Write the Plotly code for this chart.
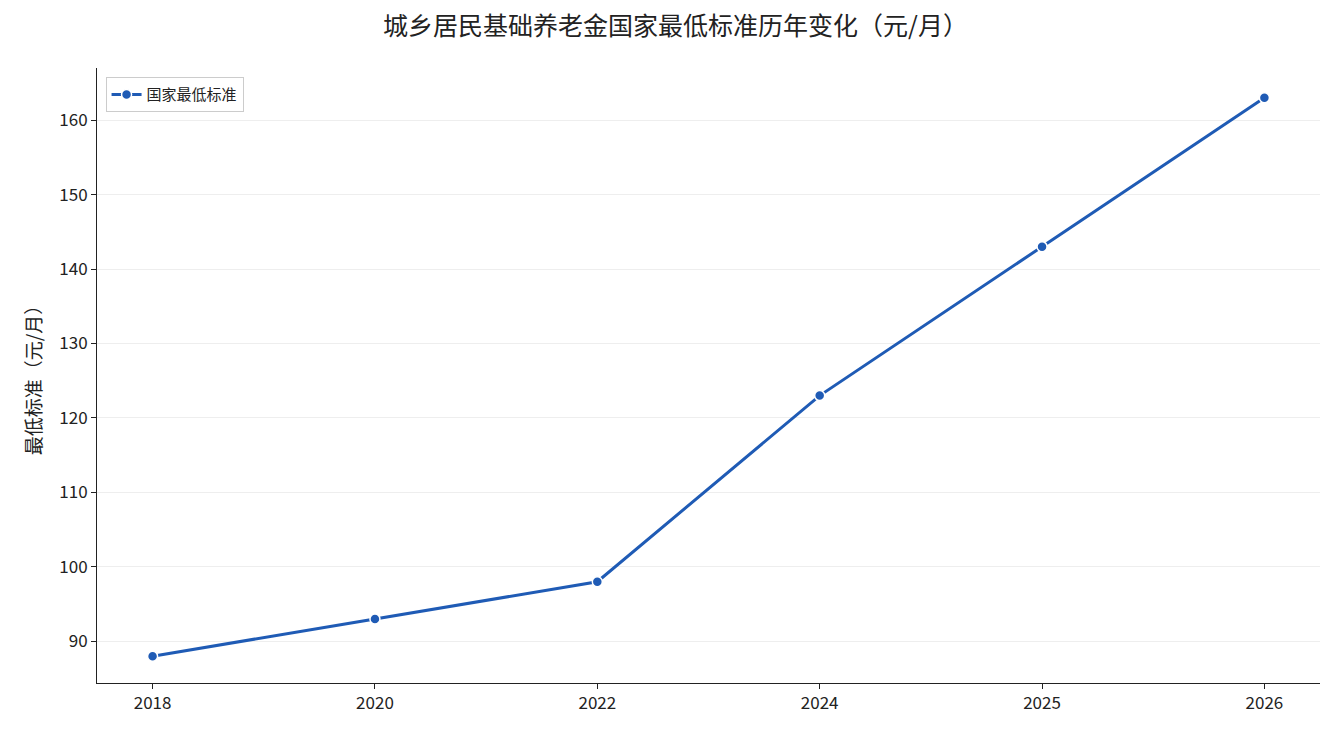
import plotly.graph_objects as go

years = ["2018", "2020", "2022", "2024", "2025", "2026"]
values = [88, 93, 98, 123, 143, 163]

font = "Noto Sans CJK SC"

fig = go.Figure()
fig.add_trace(go.Scatter(
    x=years, y=values, mode="lines+markers", name="国家最低标准",
    line=dict(color="#1f5bb5", width=3),
    marker=dict(size=10, color="#1f5bb5", line=dict(color="white", width=1.5)),
))

fig.update_layout(
    width=1335, height=735,
    paper_bgcolor="white", plot_bgcolor="white",
    font=dict(family=font, size=17, color="#222"),
    title=dict(text="城乡居民基础养老金国家最低标准历年变化（元/月）", x=0.5, y=0.975,
               xanchor="center", yanchor="middle", font=dict(size=25, color="#222")),
    margin=dict(l=89, r=23, t=60, b=60),
    showlegend=True,
    legend=dict(x=0.007, y=0.985, xanchor="left", yanchor="top",
                bordercolor="#cccccc", borderwidth=1, font=dict(size=15)),
    xaxis=dict(type="category", range=[-0.25, 5.25], showline=True, linecolor="#222",
               ticks="outside", tickcolor="#222", showgrid=False, zeroline=False),
    yaxis=dict(range=[84.4, 167], dtick=10, showline=True, linecolor="#222",
               ticks="outside", tickcolor="#222", showgrid=True, gridcolor="#eeeeee",
               zeroline=False, title=dict(text="最低标准（元/月）", font=dict(size=19),
                                          standoff=12)),
)

fig.write_html("out.html")
